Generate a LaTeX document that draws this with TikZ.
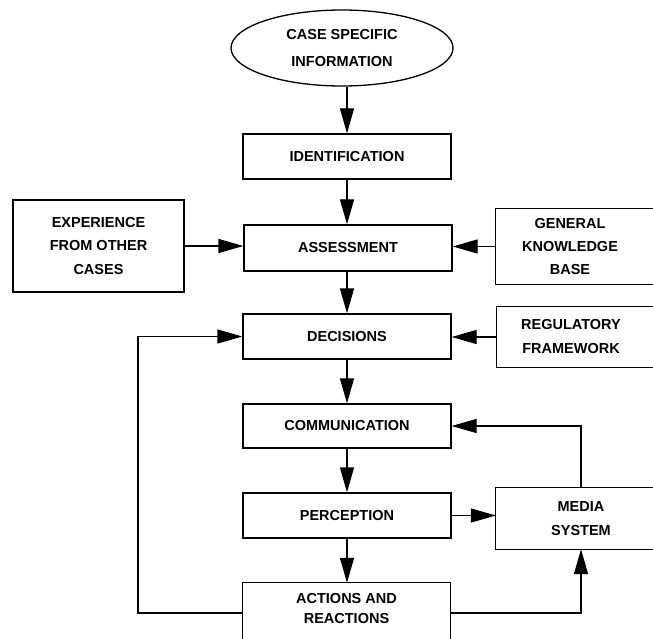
\documentclass[tikz,border=0pt]{standalone}
\usepackage{fontspec}
\setmainfont{Liberation Sans}
\usetikzlibrary{arrows.meta,shapes.geometric}
\tikzset{
  lbl/.style={font=\fontsize{14.5}{23.5}\selectfont\bfseries, align=center, inner sep=0pt},
  boxnode/.style={lbl, draw, line width=1.3pt, minimum width=208pt},
  openbox/.style={lbl, minimum width=148pt},
  arr/.style={line width=1.3pt, -{Triangle[length=25pt,width=14pt]}},
  ln/.style={line width=1.3pt}
}
\begin{document}
\begin{tikzpicture}[x=1pt,y=-1pt]
\useasboundingbox (0,0) rectangle (653,639);
\fill[white] (0,0) rectangle (653,639);

\node[lbl, draw, ellipse, line width=1.3pt, minimum width=222pt, minimum height=76pt,
      font=\fontsize{14.5}{27}\selectfont\bfseries] (info) at (342,48) {CASE SPECIFIC\\INFORMATION};
\node[boxnode, minimum height=45pt] (ident) at (347,156.5) {IDENTIFICATION};
\node[boxnode, minimum height=46pt] (assess) at (348,248) {ASSESSMENT};
\node[boxnode, minimum height=45pt] (decis) at (347,336.5) {DECISIONS};
\node[boxnode, minimum height=44pt] (comm) at (347,426) {COMMUNICATION};
\node[boxnode, minimum height=45pt] (perc) at (347,515.5) {PERCEPTION};
\node[lbl, minimum width=207pt, minimum height=52pt,
      font=\fontsize{14.5}{20}\selectfont\bfseries] (act) at (346.5,609) {ACTIONS AND\\REACTIONS};
\draw[ln] ([yshift=-40pt]act.south west) -- (act.north west) -- (act.north east) -- ([yshift=-40pt]act.south east);

\node[lbl, draw, line width=1.3pt, minimum width=171pt, minimum height=92pt] (exp) at (98.5,246) {EXPERIENCE\\FROM OTHER\\CASES};

\node[openbox, minimum height=75pt, font=\fontsize{14.5}{23}\selectfont\bfseries] (gkb) at (570,246.5) {GENERAL\\KNOWLEDGE\\BASE};
\draw[ln] ([xshift=30pt]gkb.north east) -- (gkb.north west) -- (gkb.south west) -- ([xshift=30pt]gkb.south east);

\node[openbox, minimum height=60pt, font=\fontsize{14.5}{24}\selectfont\bfseries] (reg) at (571,337) {REGULATORY\\FRAMEWORK};
\draw[ln] ([xshift=30pt]reg.north east) -- (reg.north west) -- (reg.south west) -- ([xshift=30pt]reg.south east);

\node[openbox, minimum width=170pt, minimum height=61pt, font=\fontsize{14.5}{24}\selectfont\bfseries] (media) at (581,518.5) {MEDIA\\SYSTEM};
\draw[ln] ([xshift=30pt]media.north east) -- (media.north west) -- (media.south west) -- ([xshift=30pt]media.south east);

\coordinate (lp) at (138,336.5);

\draw[arr] (ident.north |- info.south) -- (ident.north);
\draw[arr] (ident.south) -- (ident.south |- assess.north);
\draw[arr] (decis.north |- assess.south) -- (decis.north);
\draw[arr] (decis.south) -- (comm.north);
\draw[arr] (comm.south) -- (perc.north);
\draw[arr] (perc.south) -- (perc.south |- act.north);
\draw[arr] (exp.east) -- (exp.east -| assess.west);
\draw[arr] (gkb.west) -- (gkb.west -| assess.east);
\draw[arr] (reg.west) -- (reg.west -| decis.east);
\draw[arr] (perc.east) -- (perc.east -| media.west);
\draw[arr] (media.north) |- (comm.east);
\draw[arr] ([yshift=-4pt]act.east) -| (media.south);
\draw[arr] ([yshift=-4pt]act.west) -| (lp) -- (decis.west);
\end{tikzpicture}
\end{document}
